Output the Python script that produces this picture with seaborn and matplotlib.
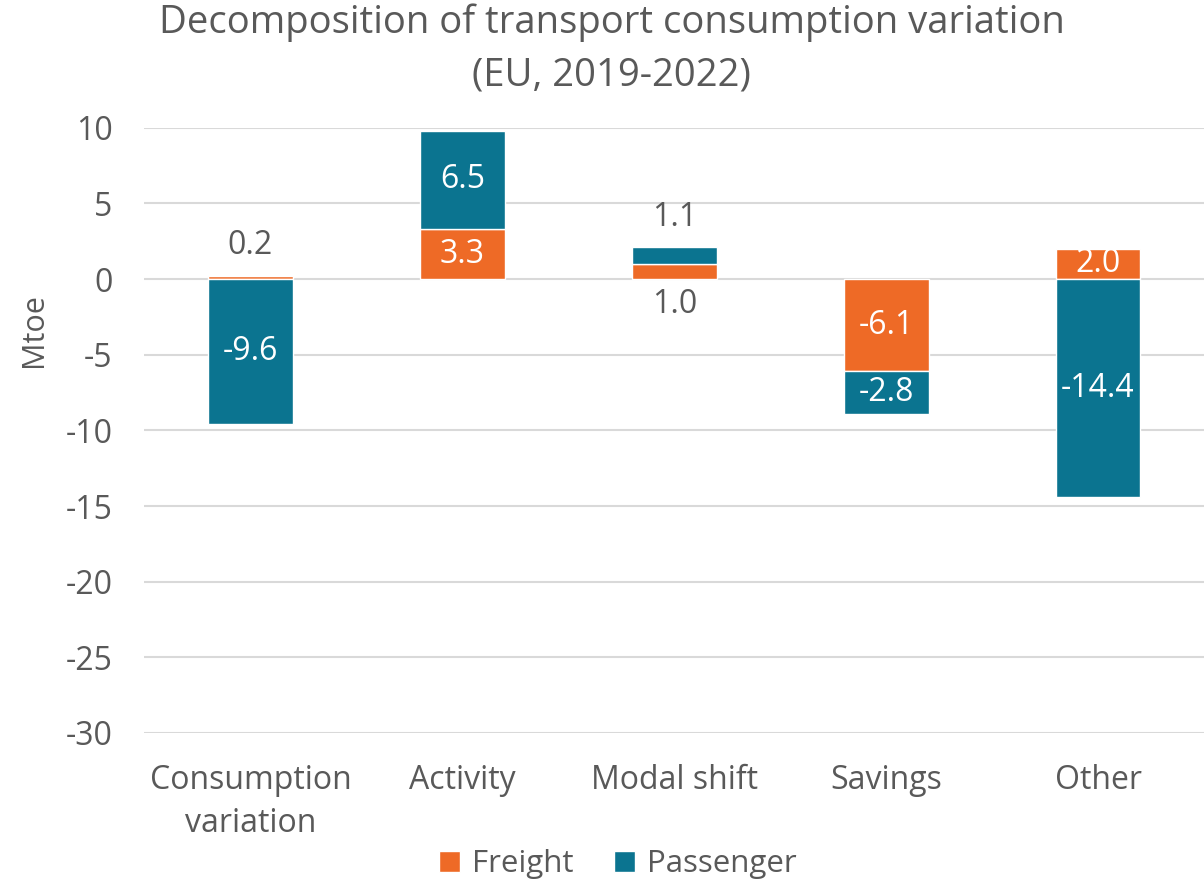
import numpy as np
import pandas as pd
import seaborn as sns
import matplotlib.pyplot as plt

categories = ["Consumption\nvariation", "Activity", "Modal shift", "Savings", "Other"]
freight = [0.2, 3.3, 1.0, -6.1, 2.0]
passenger = [-9.6, 6.5, 1.1, -2.8, -14.4]

ORANGE = "#EE6A26"
TEAL = "#0B7490"
GREY = "#595959"

sns.set_theme(style="white")
plt.rcParams['font.family'] = ['Open Sans', 'DejaVu Sans']
plt.rcParams['axes.unicode_minus'] = False
plt.rcParams['text.color'] = GREY
plt.rcParams['axes.labelcolor'] = GREY
plt.rcParams['xtick.color'] = GREY
plt.rcParams['ytick.color'] = GREY

df = pd.DataFrame({"category": categories, "Freight": freight, "Passenger": passenger})
# passenger sits on top of freight when both go the same way
df["pass_bottom"] = np.where(np.sign(df["Freight"]) == np.sign(df["Passenger"]), df["Freight"], 0)

fig = plt.figure(figsize=(12.04, 8.81), dpi=100)
ax = fig.add_axes([0.12, 0.168, 0.88, 0.687])

sns.barplot(data=df, x="category", y="Freight", color=ORANGE, width=0.4,
            saturation=1, ax=ax, label="Freight")
sns.barplot(data=df, x="category", y="Passenger", color=TEAL, width=0.4,
            saturation=1, ax=ax, label="Passenger", bottom=df["pass_bottom"])

ax.set_ylim(-30, 10)
ax.set_yticks(range(-30, 11, 5))
ax.yaxis.grid(True, color="#D9D9D9", linewidth=1.5)
ax.set_axisbelow(True)
for s in ax.spines.values():
    s.set_visible(False)
ax.tick_params(axis="y", labelsize=23, length=0, pad=23)
ax.tick_params(axis="x", labelsize=23, length=0, pad=22)
for t in ax.get_xticklabels():
    t.set_linespacing(1.4)
ax.set_xlabel("")
ax.set_ylabel("Mtoe", fontsize=22)
ax.yaxis.set_label_coords(-0.09, 0.666)
ax.set_xlim(-0.5, 4.5)

# value labels
for i in range(len(categories)):
    f, p, pb = freight[i], passenger[i], df["pass_bottom"][i]
    segs = [(f, 0, True), (p, pb, False)]
    for val, base, inner in segs:
        top = base + val
        if abs(val) >= 1.5:
            ax.text(i, base + val / 2, f"{val:.1f}", ha="center", va="center",
                    color="white", fontsize=23)
        else:
            outer = not (inner and pb != 0)
            sign = 1 if val >= 0 else -1
            if outer:
                ax.text(i, top + sign * 0.9, f"{val:.1f}", ha="center",
                        va="bottom" if sign > 0 else "top", color=GREY, fontsize=23)
            else:
                ax.text(i, base - sign * 0.6, f"{val:.1f}", ha="center",
                        va="top" if sign > 0 else "bottom", color=GREY, fontsize=23)

ax.legend(loc="lower center", bbox_to_anchor=(0.447, -0.262), ncol=2, frameon=False,
          fontsize=22.5, handlelength=0.65, handleheight=0.65, handletextpad=0.4,
          columnspacing=1.3, borderaxespad=0)

fig.suptitle("Decomposition of transport consumption variation\n(EU, 2019-2022)",
             fontsize=27.5, color=GREY, x=0.508, y=0.996, linespacing=1.5)

fig.savefig("out.png", dpi=100)
